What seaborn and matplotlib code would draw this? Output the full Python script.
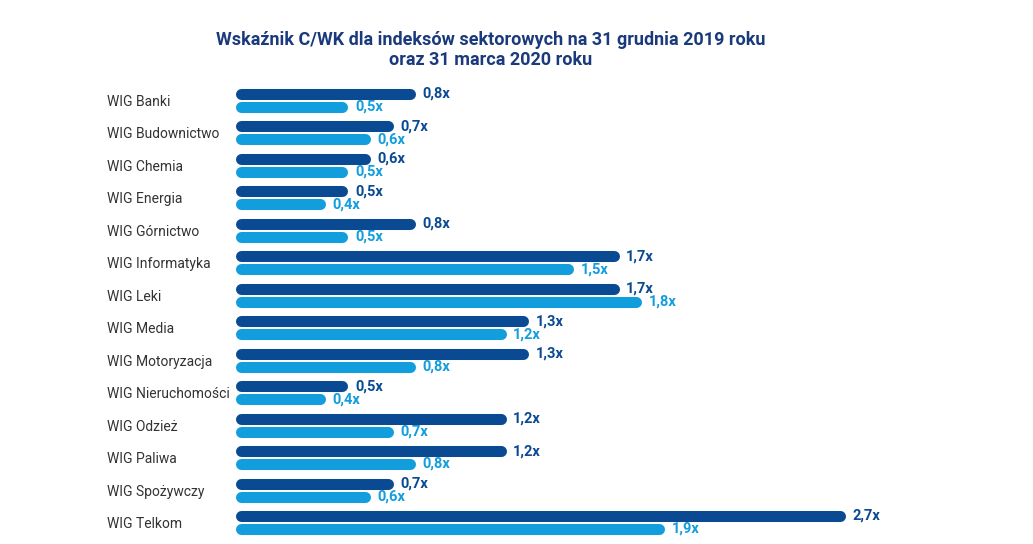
import matplotlib
matplotlib.use("Agg")
import matplotlib.pyplot as plt
import seaborn as sns
import pandas as pd

categories = ["WIG Banki", "WIG Budownictwo", "WIG Chemia", "WIG Energia",
              "WIG Górnictwo", "WIG Informatyka", "WIG Leki", "WIG Media",
              "WIG Motoryzacja", "WIG Nieruchomości", "WIG Odzież",
              "WIG Paliwa", "WIG Spożywczy", "WIG Telkom"]
dec_2019 = [0.8, 0.7, 0.6, 0.5, 0.8, 1.7, 1.7, 1.3, 1.3, 0.5, 1.2, 1.2, 0.7, 2.7]
mar_2020 = [0.5, 0.6, 0.5, 0.4, 0.5, 1.5, 1.8, 1.2, 0.8, 0.4, 0.7, 0.8, 0.6, 1.9]
series_names = ["31.12.2019", "31.03.2020"]

title_lines = ["Wskaźnik C/WK dla indeksów sektorowych na 31 grudnia 2019 roku",
               "oraz 31 marca 2020 roku"]

DARK = "#0a4a93"
LIGHT = "#129ddc"
TITLE_C = "#1b3a7c"
TEXT_C = "#333333"

df = pd.DataFrame({
    "category": categories * 2,
    "value": dec_2019 + mar_2020,
    "series": [series_names[0]] * len(categories) + [series_names[1]] * len(categories),
})

sns.set_theme(style="white")
plt.rcParams["font.family"] = ["Roboto", "DejaVu Sans"]

W, H, DPI = 1033, 544, 100
fig = plt.figure(figsize=(W / DPI, H / DPI), dpi=DPI)
fig.patch.set_facecolor("white")

left_px, right_px = 235, 1000
px_per_unit = 226.0
top_px, bottom_px = 84.3, 538.7
ax = fig.add_axes([left_px / W, 1 - bottom_px / H,
                   (right_px - left_px) / W, (bottom_px - top_px) / H])

sns.barplot(data=df, y="category", x="value", hue="series",
            hue_order=series_names, order=categories,
            palette={series_names[0]: DARK, series_names[1]: LIGHT},
            saturation=1, width=0.8, gap=0.15, legend=False, ax=ax, orient="h")

ax.set_xlim(0, (right_px - left_px) / px_per_unit)
ax.set_ylim(len(categories) - 0.5, -0.5)

# rounded bar ends: replace rectangles by round-capped lines of equal size
tf = ax.transData
for patch in list(ax.patches):
    x, y = patch.get_x(), patch.get_y()
    w, h = patch.get_width(), patch.get_height()
    hpx = abs(tf.transform((0, y + h))[1] - tf.transform((0, y))[1])
    upx = tf.transform((1, 0))[0] - tf.transform((0, 0))[0]
    r = (hpx / 2) / upx
    yc = y + h / 2
    ax.plot([x + r, x + w - r], [yc, yc], color=patch.get_facecolor(),
            lw=hpx * 72 / DPI, solid_capstyle="round", zorder=3)
    patch.set_visible(False)

for cont, vals, col in zip(ax.containers, [dec_2019, mar_2020], [DARK, LIGHT]):
    labels = [f"{v:.1f}x".replace(".", ",") for v in vals]
    ax.bar_label(cont, labels=labels, padding=5, color=col,
                 fontsize=10.5, fontweight="bold")

ax.set_xlabel("")
ax.set_ylabel("")
ax.set_xticks([])
for s in ax.spines.values():
    s.set_visible(False)
ax.tick_params(axis="y", length=0, pad=(left_px - 107) * 72 / DPI)
for lab in ax.get_yticklabels():
    lab.set_horizontalalignment("left")
    lab.set_fontsize(10)
    lab.set_color(TEXT_C)

fig.text(491 / W, 1 - 40 / H, title_lines[0], ha="center", va="center",
         fontsize=13, fontweight="bold", color=TITLE_C)
fig.text(491 / W, 1 - 60 / H, title_lines[1], ha="center", va="center",
         fontsize=13, fontweight="bold", color=TITLE_C)

fig.savefig("out.png", dpi=DPI, facecolor="white")
